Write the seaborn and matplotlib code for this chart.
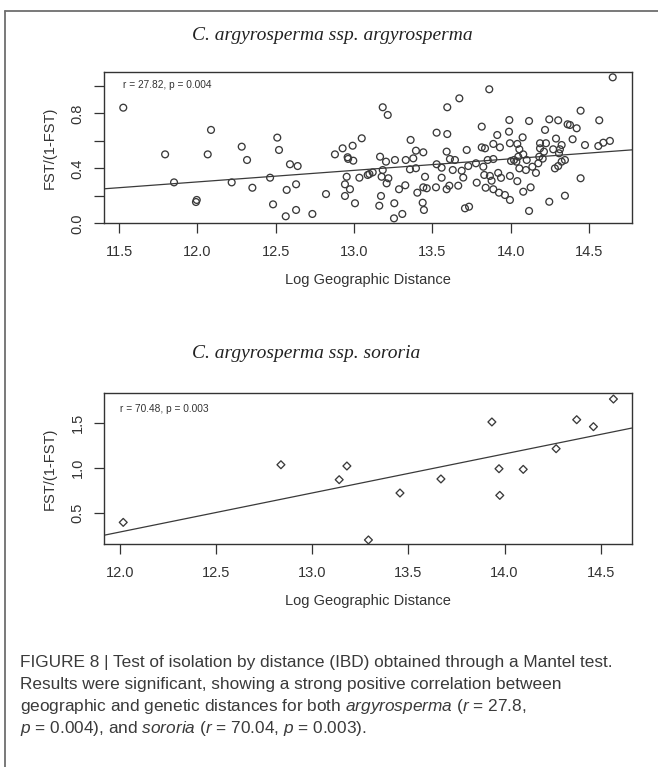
import matplotlib
matplotlib.use("Agg")
import matplotlib.pyplot as plt
from matplotlib.lines import Line2D
import seaborn as sns

# --- C. argyrosperma ssp. argyrosperma: pairwise distances ---
argy_x = [
    11.527, 11.794, 11.851, 11.991, 11.996, 12.066, 12.087, 12.219, 12.283, 12.317,
    12.351, 12.464, 12.483, 12.510, 12.521, 12.564, 12.570, 12.591,
    12.640, 12.630, 12.630, 12.734, 12.821, 12.878, 12.927, 12.959, 12.962, 12.991,
    12.995, 13.049, 12.953, 12.942, 12.974, 12.942, 13.006, 13.034, 13.087, 13.098,
    13.119, 13.166, 13.183, 13.215, 13.183, 13.176, 13.204, 13.219, 13.208, 13.172,
    13.161, 13.261, 13.257, 13.255, 13.308, 13.287, 13.327, 13.330, 13.361, 13.378,
    13.395, 13.357, 13.395, 13.442, 13.453, 13.442, 13.404, 13.464, 13.438, 13.446,
    13.527, 13.595, 13.595, 13.672, 13.527, 13.523, 13.559, 13.559, 13.591, 13.612,
    13.644, 13.630, 13.591, 13.608, 13.665, 13.687, 13.697, 13.708, 13.734, 13.719,
    13.729, 13.778, 13.815, 13.815, 13.783,
    13.863, 13.836, 13.889, 13.931, 13.914, 13.991, 13.989, 13.995, 14.042, 14.055,
    14.076, 14.117, 13.853, 13.889, 13.825, 13.831, 13.867, 13.840, 13.878, 13.889,
    13.925, 13.938, 13.920, 13.963, 13.995, 13.995, 14.002, 14.021, 14.048, 14.036,
    14.055, 14.080, 14.102, 14.097, 14.042, 14.080, 14.127, 14.117, 14.138, 14.161,
    14.176, 14.187, 14.187, 14.182, 14.219, 14.225, 14.212, 14.204, 14.246, 14.271,
    14.289, 14.303, 14.314, 14.325, 14.308, 14.282, 14.303, 14.325, 14.346, 14.246,
    14.346, 14.363, 14.378, 14.421, 14.446, 14.395, 14.446, 14.474, 14.565, 14.559,
    14.591, 14.633, 14.651,
]
argy_y = [
    0.842, 0.502, 0.298, 0.155, 0.170, 0.502, 0.680, 0.298, 0.558, 0.461,
    0.259, 0.332, 0.138, 0.624, 0.534, 0.051, 0.243, 0.430,
    0.417, 0.284, 0.097, 0.068, 0.213, 0.502, 0.546, 0.481, 0.469, 0.565,
    0.456, 0.619, 0.339, 0.284, 0.248, 0.199, 0.146, 0.332, 0.352, 0.359,
    0.371, 0.485, 0.845, 0.789, 0.388, 0.339, 0.449, 0.328, 0.291, 0.199,
    0.128, 0.461, 0.146, 0.036, 0.068, 0.248, 0.277, 0.461, 0.607, 0.473,
    0.529, 0.393, 0.401, 0.517, 0.339, 0.262, 0.223, 0.255, 0.150, 0.097,
    0.660, 0.650, 0.845, 0.910, 0.430, 0.262, 0.405, 0.332, 0.522, 0.468,
    0.461, 0.388, 0.248, 0.274, 0.274, 0.383, 0.333, 0.109, 0.121, 0.534,
    0.417, 0.437, 0.704, 0.553, 0.296,
    0.976, 0.546, 0.578, 0.553, 0.643, 0.752, 0.667, 0.583, 0.578, 0.539,
    0.626, 0.745, 0.461, 0.468, 0.412, 0.352, 0.345, 0.259, 0.310, 0.248,
    0.223, 0.331, 0.367, 0.206, 0.170, 0.345, 0.454, 0.461, 0.485, 0.449,
    0.400, 0.502, 0.461, 0.388, 0.307, 0.230, 0.262, 0.090, 0.412, 0.367,
    0.437, 0.583, 0.546, 0.485, 0.680, 0.583, 0.522, 0.471, 0.757, 0.539,
    0.617, 0.750, 0.539, 0.570, 0.510, 0.400, 0.417, 0.449, 0.461, 0.157,
    0.201, 0.721, 0.716, 0.692, 0.820, 0.612, 0.328, 0.570, 0.750, 0.563,
    0.587, 0.600, 1.063,
]

# --- C. argyrosperma ssp. sororia: pairwise distances ---
soro_x = [12.017, 12.837, 13.140, 13.180, 13.292, 13.456, 13.669, 13.934,
          13.971, 13.975, 14.097, 14.268, 14.375, 14.462, 14.566]
soro_y = [0.400, 1.036, 0.871, 1.022, 0.206, 0.724, 0.879, 1.508,
          0.992, 0.698, 0.985, 1.213, 1.533, 1.456, 1.761]

# axis ticks and labels
x_ticks_top = [11.5, 12.0, 12.5, 13.0, 13.5, 14.0, 14.5]
x_labels_top = ["11.5", "12.0", "12.5", "13.0", "13.5", "14.0", "14.5"]
y_ticks_top = [0.0, 0.2, 0.4, 0.6, 0.8, 1.0]
y_labels_top = ["0.0", "", "0.4", "", "0.8", ""]
x_ticks_bot = [12.0, 12.5, 13.0, 13.5, 14.0, 14.5]
x_labels_bot = ["12.0", "12.5", "13.0", "13.5", "14.0", "14.5"]
y_ticks_bot = [0.5, 1.0, 1.5]
y_labels_bot = ["0.5", "1.0", "1.5"]

title_top = "C. argyrosperma ssp. argyrosperma"
title_bot = "C. argyrosperma ssp. sororia"
stat_top = "r = 27.82, p = 0.004"
stat_bot = "r = 70.48, p = 0.003"
x_label = "Log Geographic Distance"
y_label = "FST/(1-FST)"
caption = [
    "FIGURE 8 | Test of isolation by distance (IBD) obtained through a Mantel test.",
    "Results were significant, showing a strong positive correlation between",
    r"geographic and genetic distances for both $\mathit{argyrosperma}$ ($\mathit{r}$ = 27.8,",
    r"$\mathit{p}$ = 0.004), and $\mathit{sororia}$ ($\mathit{r}$ = 70.04, $\mathit{p}$ = 0.003).",
]

sns.set_style("white")
plt.rcParams["font.family"] = ["Liberation Sans", "DejaVu Sans"]
plt.rcParams["mathtext.fontset"] = "custom"
plt.rcParams["mathtext.rm"] = "Liberation Sans"
plt.rcParams["mathtext.it"] = "Liberation Sans:italic"

INK = "#333333"
W, H = 658, 767
fig = plt.figure(figsize=(W / 100, H / 100), dpi=100)
fig.patch.set_facecolor("white")

ax1 = fig.add_axes([104 / W, 1 - 223.3 / H, 528.3 / W, 151.6 / H])
ax2 = fig.add_axes([104 / W, 1 - 544.3 / H, 527.7 / W, 151.6 / H])


def frame(ax, xlim, ylim, xt, xl, yt, yl):
    ax.set_xlim(xlim)
    ax.set_ylim(ylim)
    ax.set_xticks(xt, xl)
    ax.set_yticks(yt, yl)
    for s in ax.spines.values():
        s.set_visible(True)
        s.set_color(INK)
        s.set_linewidth(1.0)
    ax.tick_params(axis="both", which="major", bottom=True, left=True,
                   direction="out", length=7, width=0.9, color=INK,
                   labelcolor=INK, labelsize=10.5)
    ax.tick_params(axis="x", pad=8.5)
    ax.tick_params(axis="y", pad=7)
    for t in ax.get_yticklabels():
        t.set_rotation(90)
        t.set_va("center")


def label(ax):
    ax.set_xlabel(x_label, fontsize=10.5, color=INK)
    ax.set_ylabel(y_label, fontsize=10.5, color=INK)
    ax.xaxis.label.set_va("center")
    ax.yaxis.label.set_va("center")
    ax.xaxis.set_label_coords(0.5, -0.376)
    ax.yaxis.set_label_coords(-0.103, 0.5)


frame(ax1, (11.404, 14.776), (0.0, 1.104), x_ticks_top, x_labels_top,
      y_ticks_top, y_labels_top)
frame(ax2, (11.917, 14.661), (0.158, 1.831), x_ticks_bot, x_labels_bot,
      y_ticks_bot, y_labels_bot)

# points
sns.scatterplot(x=argy_x, y=argy_y, marker="o", s=24, facecolors="none",
                edgecolor="#3a3a3a", linewidth=0.95, ax=ax1, zorder=3)
sns.scatterplot(x=soro_x, y=soro_y, marker="D", s=16, facecolors="none",
                edgecolor="#3a3a3a", linewidth=0.95, ax=ax2, zorder=3)

# least-squares fits spanning the full axis width
for ax, xs, ys in ((ax1, argy_x, argy_y), (ax2, soro_x, soro_y)):
    lim = ax.get_xlim()
    sns.regplot(x=xs, y=ys, scatter=False, ci=None, truncate=False, ax=ax,
                line_kws=dict(color="#3a3a3a", linewidth=0.9, zorder=2))
    ax.set_xlim(lim)
    label(ax)

ax1.text(0.036, 0.912, stat_top, transform=ax1.transAxes, fontsize=7.3,
         color=INK, ha="left", va="center")
ax2.text(0.030, 0.892, stat_bot, transform=ax2.transAxes, fontsize=7.3,
         color=INK, ha="left", va="center")

# panel titles
fig.text(192 / W, 1 - 39.5 / H, title_top, fontsize=14, style="italic",
         family=["Liberation Serif", "DejaVu Serif"], color="#222222",
         ha="left", va="baseline")
fig.text(192 / W, 1 - 358 / H, title_bot, fontsize=14, style="italic",
         family=["Liberation Serif", "DejaVu Serif"], color="#222222",
         ha="left", va="baseline")

# caption
for i, line in enumerate(caption):
    fig.text(20 / W, 1 - (667.5 + 22 * i) / H, line, fontsize=12.4,
             color="#3a3a3a", ha="left", va="baseline")

# outer frame (left and top rules)
fig.add_artist(Line2D([4.5 / W, 4.5 / W], [0, 1 - 10.5 / H],
                      transform=fig.transFigure, color="#6e6e6e", lw=1.3))
fig.add_artist(Line2D([4.5 / W, 1], [1 - 10.5 / H, 1 - 10.5 / H],
                      transform=fig.transFigure, color="#6e6e6e", lw=1.3))

fig.savefig("out.png", dpi=100, facecolor="white")
